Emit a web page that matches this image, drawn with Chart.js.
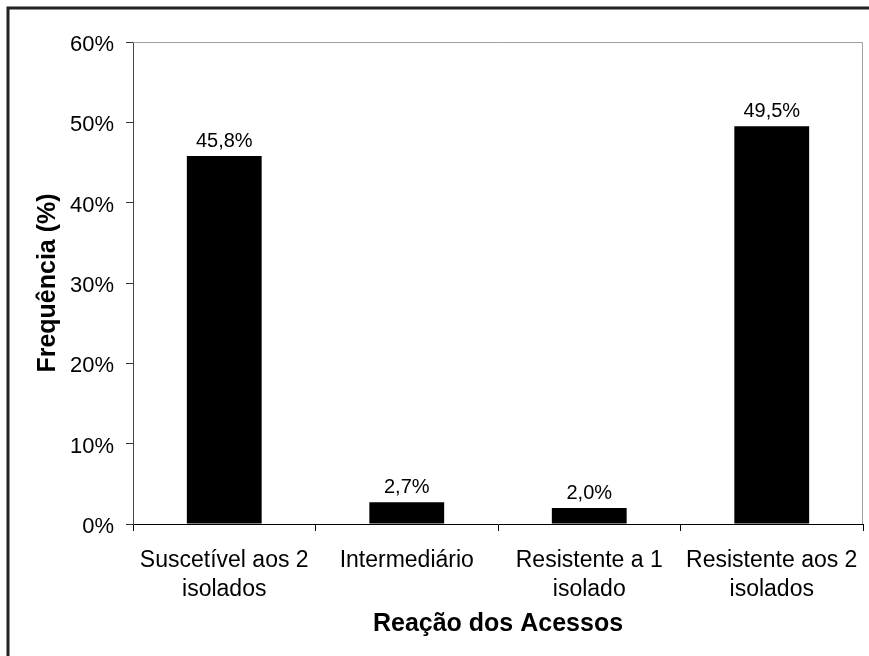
<!DOCTYPE html>
<html>
<head>
<meta charset="utf-8">
<script src="https://cdn.jsdelivr.net/npm/chart.js@4.4.0/dist/chart.umd.min.js"></script>
<style>
  html, body { margin: 0; padding: 0; background: #fff; }
  canvas { display: block; }
</style>
</head>
<body>
<canvas id="c" width="869" height="656"></canvas>
<script>
const categories = [
  ["Suscetível aos 2", "isolados"],
  "Intermediário",
  ["Resistente a 1", "isolado"],
  ["Resistente aos 2", "isolados"]
];
const frequencies = [45.8, 2.7, 2.0, 49.5];
const yTicks = [0, 10, 20, 30, 40, 50, 60];
const xTitle = "Reação dos Acessos";
const yTitle = "Frequência (%)";

const FONT = "'Liberation Sans', Arial, Helvetica, sans-serif";

const fmt = v => v.toFixed(1).replace('.', ',') + '%';

const framePlugin = {
  id: 'frame',
  beforeDraw(chart) {
    const ctx = chart.ctx;
    ctx.save();
    ctx.fillStyle = '#fff';
    ctx.fillRect(0, 0, chart.width, chart.height);
    ctx.strokeStyle = '#222';
    ctx.lineWidth = 3;
    ctx.beginPath();
    ctx.moveTo(8, chart.height + 5);
    ctx.lineTo(8, 8);
    ctx.lineTo(chart.width + 5, 8);
    ctx.stroke();
    ctx.restore();
  },
  beforeDatasetsDraw(chart) {
    const a = chart.chartArea;
    const ctx = chart.ctx;
    ctx.save();
    ctx.strokeStyle = '#a0a0a0';
    ctx.lineWidth = 1;
    ctx.beginPath();
    ctx.moveTo(a.left, a.top + 0.5);
    ctx.lineTo(a.right - 0.5, a.top + 0.5);
    ctx.lineTo(a.right - 0.5, a.bottom);
    ctx.stroke();
    ctx.restore();
  }
};

const labelPlugin = {
  id: 'barLabels',
  afterDatasetsDraw(chart) {
    const ctx = chart.ctx;
    const meta = chart.getDatasetMeta(0);
    ctx.save();
    ctx.font = "20px " + FONT;
    ctx.fillStyle = '#000';
    ctx.textAlign = 'center';
    ctx.textBaseline = 'alphabetic';
    meta.data.forEach((bar, i) => {
      ctx.fillText(fmt(frequencies[i]), bar.x, bar.y - 9);
    });
    ctx.restore();
  }
};

new Chart(document.getElementById('c'), {
  type: 'bar',
  data: {
    labels: categories,
    datasets: [{
      data: frequencies,
      backgroundColor: '#000',
      borderWidth: 0,
      categoryPercentage: 1.0,
      barPercentage: 0.41
    }]
  },
  options: {
    responsive: false,
    animation: false,
    devicePixelRatio: 1,
    layout: { padding: { top: 42, right: 6, left: 0, bottom: 0 } },
    plugins: {
      legend: { display: false },
      tooltip: { enabled: false },
      title: { display: false }
    },
    scales: {
      x: {
        afterFit(scale) { scale.height = 132; scale.paddingLeft = 0; scale.paddingRight = 0; },
        grid: {
          offset: true,
          drawOnChartArea: false,
          drawTicks: true,
          tickLength: 7,
          color: '#000'
        },
        border: { color: '#000', width: 1 },
        ticks: {
          color: '#000',
          font: { family: FONT, size: 23, lineHeight: 1.23 },
          padding: 16,
          maxRotation: 0,
          autoSkip: false
        },
        title: {
          display: true,
          text: xTitle,
          color: '#000',
          font: { family: FONT, size: 25, weight: 'bold', lineHeight: 1.2 },
          padding: { top: 0, bottom: 17 }
        }
      },
      y: {
        min: 0,
        max: 60,
        afterFit(scale) { scale.width = 133; scale.paddingTop = 0; scale.paddingBottom = 0; },
        afterBuildTicks(scale) { scale.ticks = yTicks.map(v => ({ value: v })); },
        grid: {
          drawOnChartArea: false,
          drawTicks: true,
          tickLength: 7,
          color: '#333'
        },
        border: { color: '#444', width: 1 },
        ticks: {
          color: '#000',
          font: { family: FONT, size: 22 },
          padding: 12,
          labelOffset: 3,
          callback: v => v + '%'
        },
        title: {
          display: true,
          text: yTitle,
          color: '#000',
          font: { family: FONT, size: 25, weight: 'bold', lineHeight: 1.2 },
          padding: { top: 33, bottom: 0 }
        }
      }
    }
  },
  plugins: [framePlugin, labelPlugin]
});
</script>
</body>
</html>
